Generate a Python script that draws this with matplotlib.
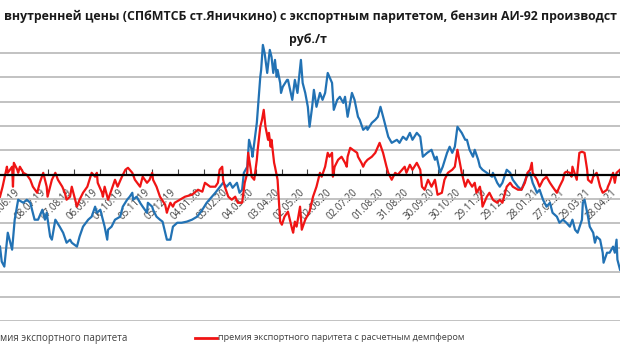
import pandas as pd
import numpy as np
import matplotlib
matplotlib.use("Agg")
import matplotlib.pyplot as plt
from matplotlib.lines import Line2D

# day offsets from start date, values in rub/t
start = pd.Timestamp("2019-05-13")

blue_days = [0, 2, 5, 9, 14, 17, 21, 27, 31, 35, 40, 44, 49, 52, 54, 58, 60, 64, 69, 73,
             77, 81, 83, 89, 92, 96, 102, 106, 110, 112, 116, 119, 121, 124, 125, 129, 133, 139, 142, 147,
             150, 153, 154, 158, 162, 165, 170, 171, 176, 177, 181, 185,
             188, 193, 197, 200, 205, 210, 216, 222, 228, 234, 239, 245, 249, 258, 262, 266, 269, 274, 277, 280,
             282, 286, 288, 291, 292, 295, 297, 301, 302, 304, 306, 309, 312, 314, 316, 318, 320, 321, 324, 325,
             327, 332, 333, 338, 341, 344, 348, 350, 353, 356, 358, 361, 363,
             366, 370, 373, 376, 379, 384, 386, 390, 393, 397, 399, 402, 407, 410, 414, 416, 420, 424, 425, 430,
             434, 437, 440, 444, 449, 453, 459, 462, 466, 470, 474, 477, 482, 486, 489, 494, 499, 503, 505, 509,
             512, 517, 520, 523, 526, 529, 534, 538, 540, 543,
             547, 549, 553, 555, 558, 563, 569, 570, 575, 578, 581, 586, 590, 593, 599, 603, 609, 613, 616, 621,
             624, 628, 632, 636, 639, 644, 647, 651, 655, 659, 662, 665, 668, 673, 674, 676, 680, 682, 686, 688,
             690, 694, 697, 698, 702, 705, 709, 711, 713, 714, 717]
blue_vals = [-5900, -7130, -7540, -4760, -6150, -3690, -2050, -2300, -2050, -2300,
             -3690, -3690, -2870, -3690, -3120, -5080, -5330, -3690, -4260, -4760,
             -5580, -5330, -5580, -5900, -5080, -4260, -3690, -3440, -2620, -3120,
             -2870, -3690, -4260, -5330, -4510, -4260, -3690, -3440, -2620, -2050,
             -1800, -1480, -2050, -1800, -2300, -2620, -3120, -2300, -2620, -2870, -3440, -3690,
             -3850, -5330, -5330, -4260, -3940, -3940, -3850, -3690, -3440, -2870,
             -2300, -1800, -1480, -660, -980, -660, -1070, -660, -1480, -1230,
             160, 660, 2870, 2050, 1480, 3120, 4260, 8040, 8610, 10660,
             10000, 8360, 10250, 9680, 8360, 9430, 8040, 8610, 7540, 6720,
             7220, 7790, 7790, 6150, 7790, 6720, 9430, 7540, 6720, 5580, 3940, 5580, 6970,
             5580, 6720, 6150, 6720, 8360, 7540, 5330, 6150, 6400, 5900,
             6400, 4760, 6720, 6150, 4760, 4510, 3690, 3940, 3690, 4260,
             4510, 4760, 5580, 4510, 3120, 2620, 2870, 2620, 3120, 2870,
             3440, 2870, 3440, 3120, 1480, 1800, 2050, 1230, 1480, 160,
             660, 1800, 2300, 1800, 2300, 3940, 3440, 2870, 2870, 2050,
             1480, 2050, 1230, 660, 410, 160, -160, 160, -660, -980,
             -660, 410, 160, -410, -980, -1230, -160, 160, -660, -1480,
             -1230, -2050, -2620, -2300, -3120, -3440, -3940, -3690, -3940, -4260,
             -3690, -4510, -4760, -3690, -2300, -2050, -3440, -4260, -4760, -5580,
             -5080, -5330, -6400, -7220, -6400, -6400, -5900, -6400, -5330, -6970, -7790]

red_days = [0, 3, 8, 9, 14, 15, 16, 20, 21, 23, 27, 31, 35, 38, 43, 46, 50, 54, 55, 60,
            64, 67, 72, 75, 77, 81, 83, 86, 89, 92, 96, 101, 106, 110, 112, 113, 118, 119, 121, 125,
            129, 133, 136, 141, 145, 148, 153, 156, 162, 165, 170, 173, 176, 177, 181, 185,
            191, 193, 194, 197, 200, 202, 208, 214, 222, 229, 234, 237, 243, 249, 252, 254, 257, 258, 260, 264,
            268, 272, 275, 280, 283, 286, 287, 290, 291, 294, 297, 298, 301, 303, 305, 307, 310, 311, 313, 314,
            317, 318, 321, 323, 324, 326, 329, 333, 338, 339, 341, 343, 347, 349, 353, 358,
            362, 366, 370, 372, 376, 379, 381, 384, 385, 387, 391, 395, 399, 401, 402, 405, 408, 413, 414, 418,
            420, 422, 425, 430, 434, 437, 439, 443, 447, 449, 453, 457, 460, 465, 468, 470, 474, 477, 482, 486,
            488, 491, 495, 499, 503, 506, 511, 514, 518, 523, 526, 529,
            534, 538, 541, 546, 549, 551, 555, 557, 558, 563, 566, 570, 575, 578, 581, 586, 590, 593, 599, 603,
            607, 610, 613, 615, 616, 621, 624, 628, 632, 636, 639, 644, 647, 651, 653, 655, 659, 661, 662, 667,
            668, 670, 673, 676, 679, 680, 684, 686, 690, 694, 697, 702, 703, 705, 709, 711, 713, 717]
red_vals = [-1800, -980, 660, 160, 660, -980, 980, 410, 160, 660,
            160, 0, -410, -980, -1480, -660, 160, -980, -1800, -410,
            160, -410, -980, -1480, -2050, -1800, -980, -1800, -2620, -2050,
            -1480, -980, 160, -160, 160, -660, -1480, -1800, -980, -2050,
            -1230, -410, -980, -160, 410, 570, 160, -410, -980, -160,
            -660, -410, 160, -410, -980, -1800,
            -2460, -3120, -2870, -2300, -2620, -2300, -2050, -1800, -1640, -1230,
            -1390, -660, -980, -980, -660, 410, 660, -410, -980, -1800,
            -2050, -1800, -2300, -2300, -660, 160, 1800, 410, -160, -410,
            1230, 2050, 3940, 4510, 5330, 3940, 2870, 3440, 2300, 2870,
            980, 660, -410, -2620, -3850, -4100, -3440, -3030, -4510, -4760,
            -3850, -4260, -2620, -4510, -3690, -3030,
            -1800, -980, 160, -160, 660, 1800, 1480, 1800, -160, 660,
            1230, 1480, 980, 660, 1480, 2210, 2050, 1800, 1480, 980,
            660, 980, 1230, 1480, 1800, 2300, 2620, 1800, 660, 160,
            -410, 160, 0, 410, 660, 160, 820, 410, 980, 410,
            -980, -1230, -410, -980, -410, -1640, -1480, -410, 160, 410,
            660, 2050,
            160, -980, -410, -980, -660, -1480, -980, -1800, -2620, -1800,
            -1480, -2050, -2300, -2050, -2300, -980, -660, -980, -1230, -1230,
            -660, 160, 410, 980, 160, -410, -980, -410, -160, -660,
            -980, -1480, -980, -410, 160, 250, 160, -160, 660, -410,
            410, 1800, 1890, 1800, 410, -410, -660, -160, 160, -980,
            -1480, -1230, -980, -660, 160, -660, 160, 410]

tick_labels = ["08.06.19", "08.07.19", "07.08.19", "06.09.19", "06.10.19", "05.11.19",
               "05.12.19", "04.01.20", "03.02.20", "04.03.20", "03.04.20", "02.05.20",
               "02.06.20", "02.07.20", "01.08.20", "31.08.20", "30.09.20", "30.10.20",
               "29.11.20", "29.12.20", "28.01.21", "27.02.21", "29.03.21", "28.04.21"]

title_line = "внутренней цены (СПбМТСБ ст.Яничкино) с экспортным паритетом, бензин АИ-92 производст"
title_unit = "руб./т"
legend_blue = "мия экспортного паритета"
legend_red = "премия экспортного паритета с расчетным демпфером"

plt.rcParams['font.family'] = ['Open Sans', 'DejaVu Sans']

W, H = 620, 364
fig = plt.figure(figsize=(W / 100, H / 100), dpi=100)
ax = fig.add_axes([0, 1 - 321.4 / H, 1, (321.4 - 28.6) / H])

blue_dates = start + pd.to_timedelta(blue_days, unit="D")
red_dates = start + pd.to_timedelta(red_days, unit="D")

ax.plot(blue_dates, blue_vals, color="#2272b4", lw=1.6, zorder=2)
ax.plot(red_dates, red_vals, color="#f01414", lw=1.6, zorder=2.1)

ax.set_xlim(start, start + pd.Timedelta(days=717))
ax.set_ylim(-12040, 12000)
ax.set_yticks(np.arange(-12000, 10001, 2000))
ax.yaxis.grid(True, color="#bdbdbd", lw=1.3, zorder=0)
ax.tick_params(axis="y", left=False, labelleft=False)
ax.set_axisbelow(True)

for s in ["left", "right", "top"]:
    ax.spines[s].set_visible(False)
ax.spines["bottom"].set_position(("data", 0))
ax.spines["bottom"].set_color("black")
ax.spines["bottom"].set_linewidth(1.6)
ax.spines["bottom"].set_zorder(3)

tick_dates = pd.to_datetime(tick_labels, format="%d.%m.%y")
ax.set_xticks(tick_dates)
ax.set_xticklabels(tick_labels, rotation=45, ha="right", va="top",
                   fontsize=7, color="#404040")
ax.tick_params(axis="x", direction="in", length=4, width=0.8, pad=9, color="#404040")

# title (cropped at both sides in the source)
t1 = fig.text(0.5, 1 - 16.5 / H, title_line, ha="center", va="center",
              fontsize=9, fontweight="bold", color="#1a1a1a")
t2 = fig.text(308 / W, 1 - 40 / H, title_unit, ha="center", va="center",
              fontsize=9, fontweight="bold", color="#1a1a1a")
r = fig.canvas.get_renderer()
bw = t1.get_window_extent(r).width
size = 9 * 614 / bw
t1.set_fontsize(size)
t2.set_fontsize(size)

# legend
ly = 1 - 338 / H
fig.text(0, ly, legend_blue, ha="left", va="center", fontsize=7, color="#404040")
fig.add_artist(Line2D([195 / W, 217 / W], [ly, ly], color="#f01414", lw=2,
                      transform=fig.transFigure))
lt = fig.text(218 / W, ly, legend_red, ha="left", va="center", fontsize=7, color="#404040")
lw_ = lt.get_window_extent(r).width
lt.set_fontsize(7 * 249 / lw_)

fig.savefig("out.png", dpi=100)
